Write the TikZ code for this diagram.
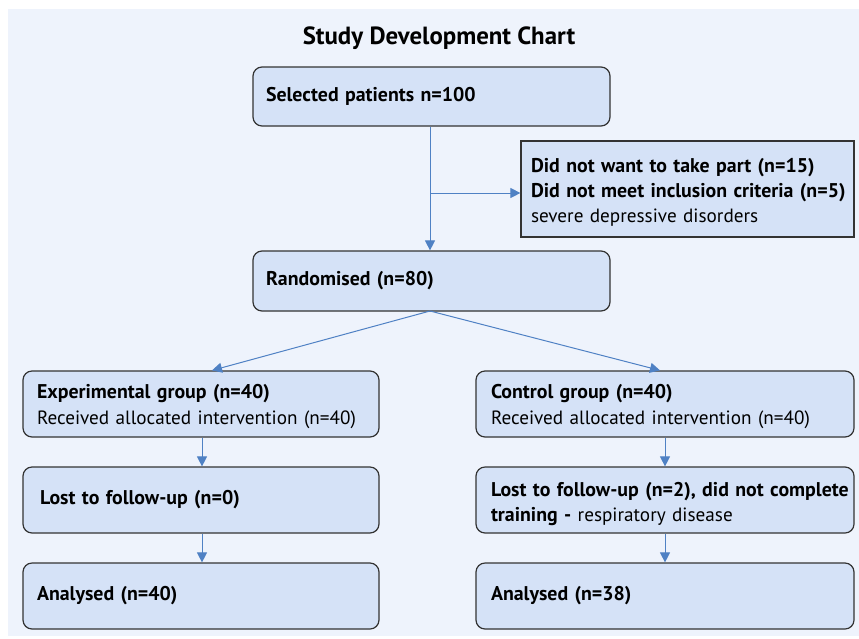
\documentclass[tikz,border=0pt]{standalone}
\usepackage{fontspec}
\setmainfont{PT Sans}[BoldFeatures={Scale=1.035}]
\usetikzlibrary{arrows.meta,calc}
\definecolor{bgc}{HTML}{EEF3FC}
\definecolor{boxfill}{HTML}{D5E2F7}
\definecolor{boxline}{HTML}{333333}
\definecolor{arrc}{HTML}{4F81C4}
\tikzset{
  rbox/.style={draw=boxline, fill=boxfill, line width=1.2pt, rounded corners=9pt,
    minimum height=#1, inner xsep=0pt, inner ysep=0pt, align=left,
    font=\fontsize{19.2}{25.5}\selectfont},
  sbox/.style={draw=boxline, fill=boxfill, line width=1.2pt,
    inner xsep=0pt, inner ysep=0pt, align=left,
    font=\fontsize{19.2}{25}\selectfont},
  conn/.style={draw=arrc, line width=1pt, -{Triangle[length=10pt,width=10pt]}}
}
\newcommand\lift[1]{\rule{0pt}{#1}}
\begin{document}
\begin{tikzpicture}[x=1pt,y=-1pt]
\useasboundingbox (0,0) rectangle (859,638);
\fill[bgc] (8,9) rectangle (859,636);
\node[font=\fontsize{24}{25}\selectfont\bfseries] (title) at (439,38) {Study Development Chart};

\node[rbox=59pt, text width=331pt, minimum width=357pt] (sel) at (431.5,96.5) {\textbf{Selected patients n=100}};
\node[sbox, text width=313pt, minimum width=333pt, minimum height=96pt] (exc) at (687.5,189)
  {\mbox{\lift{20pt}\textbf{Did not want to take part (n=15)}}\\\mbox{\textbf{Did not meet inclusion criteria (n=5)}}\\severe depressive disorders};
\node[rbox=60pt, text width=331pt, minimum width=357pt] (ran) at (431.5,281) {\textbf{Randomised (n=80)}};

\node[rbox=66pt, text width=328pt, minimum width=356pt] (exp) at (201,404)
  {\mbox{\lift{19pt}\textbf{Experimental group (n=40)}}\\\mbox{Received allocated intervention (n=40)}};
\node[rbox=66pt, text width=322pt, minimum width=356pt] (lostl) at (201,500) {\textbf{Lost to follow-up (n=0)}};
\node[rbox=66pt, text width=328pt, minimum width=356pt] (anal) at (201,596) {\textbf{Analysed (n=40)}};

\node[rbox=66pt, text width=348pt, minimum width=378pt] (ctl) at (665,404)
  {\mbox{\lift{19pt}\textbf{Control group (n=40)}}\\\mbox{Received allocated intervention (n=40)}};
\node[rbox=66pt, text width=348pt, minimum width=378pt] (lostr) at (665,500)
  {\mbox{\lift{22pt}\textbf{Lost to follow-up (n=2), did not complete}}\\\mbox{\textbf{training -} respiratory disease}};
\node[rbox=66pt, text width=348pt, minimum width=378pt] (anar) at (665,596) {\textbf{Analysed (n=38)}};

\coordinate (split) at (430,193);
\coordinate (ranS) at (430,311);
\coordinate (expT) at ([xshift=11pt]exp.north);
\coordinate (ctlT) at ([xshift=-5pt]ctl.north);

\draw[conn] (sel.south -| split) -- (ran.north -| split);
\draw[conn] (split) -- (split -| exc.west);
\draw[conn] (ranS) -- (expT);
\draw[conn] (ranS) -- (ctlT);
\draw[conn] (exp.south) ++(1,0) coordinate (e1) -- (e1 |- lostl.north);
\draw[conn] (lostl.south) ++(1,0) coordinate (e2) -- (e2 |- anal.north);
\draw[conn] (ctl.south) -- (lostr.north);
\draw[conn] (lostr.south) -- (anar.north);
\end{tikzpicture}
\end{document}
